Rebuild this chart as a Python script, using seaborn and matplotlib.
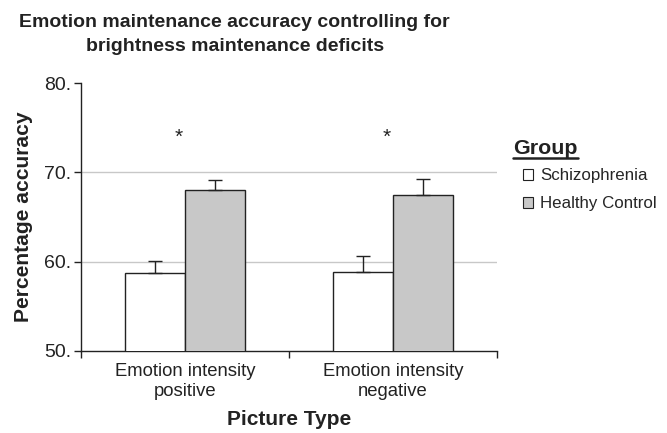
import numpy as np
import pandas as pd
import matplotlib
matplotlib.use("Agg")
import matplotlib.pyplot as plt
import seaborn as sns
from matplotlib.lines import Line2D
from matplotlib.patches import Patch

# values
picture_types = ["Emotion intensity\npositive", "Emotion intensity\nnegative"]
groups = ["Schizophrenia", "Healthy Control"]
schizophrenia_means = [58.7, 58.8]
control_means = [68.0, 67.5]
schizophrenia_err = [1.4, 1.8]
control_err = [1.1, 1.7]
y_ticks = [50, 60, 70, 80]
y_tick_labels = ["50.", "60.", "70.", "80."]
star_level = 73.9

bar_colors = {"Schizophrenia": "#ffffff", "Healthy Control": "#c8c8c8"}

df = pd.DataFrame({
    "picture": picture_types * 2,
    "group": [groups[0]] * 2 + [groups[1]] * 2,
    "accuracy": schizophrenia_means + control_means,
    "err": schizophrenia_err + control_err,
})

sns.set_style("white")
plt.rcParams["font.family"] = ["Liberation Sans", "DejaVu Sans"]

fig = plt.figure(figsize=(6.67, 4.33), dpi=100)
ax = fig.add_axes([0.1214, 0.1894, 0.6236, 0.6189])

sns.barplot(data=df, x="picture", y="accuracy", hue="group", order=picture_types,
            hue_order=groups, palette=bar_colors, width=0.58, errorbar=None,
            edgecolor="#222222", linewidth=1.0, legend=False, ax=ax, zorder=3)

# upward-only error bars on each bar
for container, g in zip(ax.containers, groups):
    sub = df[df["group"] == g].set_index("picture").loc[picture_types]
    xs = [p.get_x() + p.get_width() / 2 for p in container.patches]
    ax.errorbar(xs, sub["accuracy"], yerr=[np.zeros(len(xs)), sub["err"]],
                fmt="none", ecolor="#222222", elinewidth=1.0, capsize=5, capthick=1.0, zorder=4)

for i in range(len(picture_types)):
    ax.text(i - 0.03, star_level, "*", ha="center", va="center", fontsize=15, color="#222222")

for v in [60, 70]:
    ax.axhline(v, color="#c8c8c8", linewidth=1.0, zorder=1)

ax.set_ylim(y_ticks[0], y_ticks[-1])
ax.set_xlim(-0.5, len(picture_types) - 0.5)
ax.set_yticks(y_ticks)
ax.set_yticklabels(y_tick_labels, fontsize=14, color="#222222")
ax.tick_params(axis="y", direction="out", length=5, width=1, color="#222222", left=True, pad=2)
ax.tick_params(axis="x", which="major", length=0, pad=9, labelsize=13.3, labelcolor="#222222")
for lbl in ax.get_xticklabels():
    lbl.set_linespacing(1.22)
ax.set_xticks(np.arange(-0.5, len(picture_types)), minor=True)
ax.tick_params(axis="x", which="minor", direction="out", length=5, width=1, color="#222222", bottom=True)

for s in ["top", "right"]:
    ax.spines[s].set_visible(False)
for s in ["left", "bottom"]:
    ax.spines[s].set_color("#222222")
    ax.spines[s].set_linewidth(1.0)

ax.set_xlabel("Picture Type", fontsize=15, fontweight="bold", color="#222222", labelpad=7)
ax.set_ylabel("Percentage accuracy", fontsize=15.1, fontweight="bold", color="#222222", labelpad=8)

fig.text(0.352, 0.92, "Emotion maintenance accuracy controlling for\nbrightness maintenance deficits",
         ha="center", va="center", fontsize=14, fontweight="bold", color="#222222", linespacing=1.5)

# legend with underlined title
fig.text(0.769, 0.645, "Group", fontsize=15.4, fontweight="bold", color="#222222", va="baseline")
fig.add_artist(Line2D([0.769, 0.867], [0.634, 0.634], color="#222222", linewidth=1.8,
                      transform=fig.transFigure))
handles = [Patch(facecolor=bar_colors[g], edgecolor="#222222", linewidth=0.8, label=g) for g in groups]
fig.legend(handles=handles, loc="upper left", bbox_to_anchor=(0.784, 0.611), frameon=False,
           fontsize=12.2, handlelength=0.6, handleheight=0.6, handletextpad=0.4,
           labelspacing=0.75, borderaxespad=0, borderpad=0)

fig.savefig("out.png", dpi=100)
